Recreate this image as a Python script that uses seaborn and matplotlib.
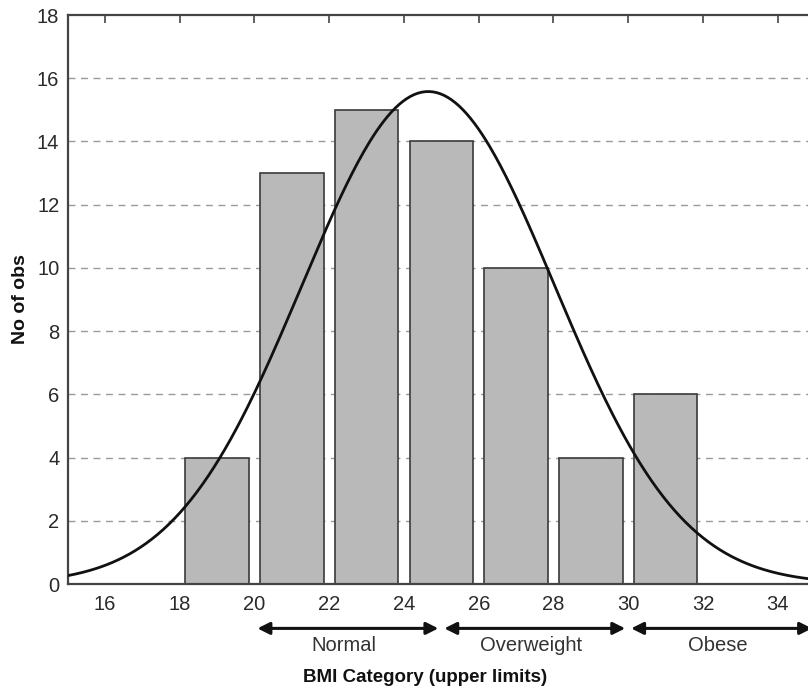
import numpy as np
import pandas as pd
import matplotlib
matplotlib.use("Agg")
import matplotlib.pyplot as plt
import seaborn as sns

# ヒストグラムの値（ビン中央と度数）
bin_mids = [19, 21, 23, 25, 27, 29, 31]
counts = [4, 13, 15, 14, 10, 4, 6]
bin_width = 2

# 正規曲線のパラメータ
curve_mean = 24.65
curve_sd = 3.38

# BMI区分
cat_names = ["Normal", "Overweight", "Obese"]
cat_ranges = [(20, 25), (25, 30), (30, 35)]

xticks = [16, 18, 20, 22, 24, 26, 28, 30, 32, 34]
yticks = [0, 2, 4, 6, 8, 10, 12, 14, 16, 18]

sns.set_style("white")
plt.rcParams["font.family"] = ["Liberation Sans", "DejaVu Sans"]

df = pd.DataFrame({"bmi": bin_mids, "n": counts})

fig = plt.figure(figsize=(8.08, 6.9), dpi=100)
ax = fig.add_axes([0.0837, 0.1536, 0.925, 0.8246])

# 横のグリッド（破線）
for y in yticks[1:-1]:
    ax.axhline(y, color="#9a9a9a", lw=1.0, ls=(0, (5, 4)), zorder=0)

sns.barplot(data=df, x="bmi", y="n", native_scale=True, width=0.85,
            color="#b9b9b9", edgecolor="#3a3a3a", linewidth=1.2,
            saturation=1, ax=ax, zorder=2)

# 正規曲線（度数スケール）
xs = np.linspace(15, 35, 400)
pdf = np.exp(-0.5 * ((xs - curve_mean) / curve_sd) ** 2) / (curve_sd * np.sqrt(2 * np.pi))
curve = pd.DataFrame({"x": xs, "y": pdf * sum(counts) * bin_width})
sns.lineplot(data=curve, x="x", y="y", color="#111111", lw=2.0, ax=ax, zorder=3)

ax.set_xlim(15, 35)
ax.set_ylim(0, 18)
ax.set_xticks(xticks)
ax.set_yticks(yticks)
ax.tick_params(axis="both", direction="in", length=6, width=1.2, color="#444444",
               labelsize=14.5, labelcolor="#2a2a2a", top=True)
ax.tick_params(axis="x", pad=8)
ax.tick_params(axis="y", pad=6)
for s in ax.spines.values():
    s.set_color("#444444")
    s.set_linewidth(1.6)

ax.set_xlabel("")
ax.set_ylabel("No of obs", fontsize=14, fontweight="bold", labelpad=6, color="#111111")

# 区分の矢印とラベル
for name, (a, b) in zip(cat_names, cat_ranges):
    ax.annotate("", xy=(a + 0.08, -0.078), xytext=(b - 0.08, -0.078),
                xycoords=("data", "axes fraction"), textcoords=("data", "axes fraction"),
                arrowprops=dict(arrowstyle="<|-|>", color="#111111", lw=2.2,
                                mutation_scale=18, shrinkA=0, shrinkB=0),
                annotation_clip=False)
    ax.text((a + b) / 2 - 0.1, -0.108, name, transform=ax.get_xaxis_transform(),
            ha="center", va="center", fontsize=14.5, color="#333333")

fig.text(425 / 808, 1 - 677 / 690, "BMI Category (upper limits)", ha="center", va="center",
         fontsize=13.5, fontweight="bold", color="#111111")

fig.savefig("out.png", dpi=100)
